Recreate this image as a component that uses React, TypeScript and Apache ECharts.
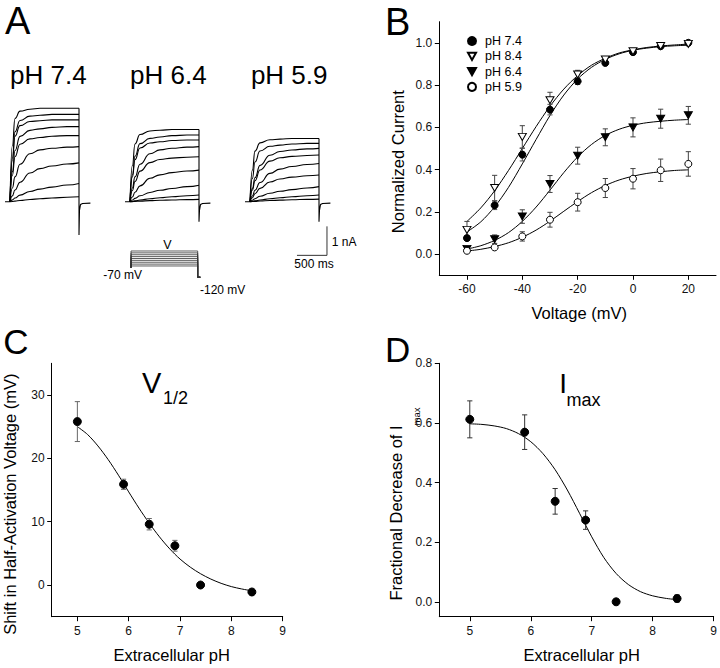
import React, { useEffect, useRef } from "react";
import * as echarts from "echarts";

const FONT = '"Liberation Sans", Arial, Helvetica, sans-serif';

// ---------- Panel A: current traces (nA vs ms) ----------
const traceTimes = [0, 40, 83, 167, 333, 500, 700, 950, 1150];
const riseShapes = [
  [0, 0.6, 0.89, 0.97, 0.99, 1, 1, 1, 1],
  [0, 0.5, 0.8, 0.93, 0.98, 0.99, 1, 1, 1],
  [0, 0.4, 0.68, 0.87, 0.95, 0.97, 0.99, 1, 1],
  [0, 0.25, 0.45, 0.68, 0.87, 0.94, 0.97, 0.99, 1],
  [0, 0.15, 0.3, 0.5, 0.74, 0.85, 0.92, 0.97, 1],
  [0, 0.1, 0.2, 0.36, 0.56, 0.69, 0.8, 0.91, 1],
  [0, 0.05, 0.12, 0.25, 0.45, 0.6, 0.75, 0.9, 1],
];
const ampPH74 = [3.22, 3.01, 2.82, 2.59, 2.28, 1.9, 1.34, 0.63, 0.17];
const kinPH74 = [0, 1, 1, 2, 2, 3, 4, 5, 6];
const tailPH74 = 1.15;
const ampPH64 = [2.49, 2.3, 2.13, 1.9, 1.55, 1.09, 0.57, 0.23, 0.08];
const kinPH64 = [1, 2, 2, 3, 3, 4, 5, 6, 6];
const tailPH64 = 0.69;
const ampPH59 = [2.18, 2.01, 1.84, 1.61, 1.32, 0.92, 0.52, 0.23, 0.09];
const kinPH59 = [1, 2, 3, 3, 4, 4, 5, 6, 6];
const tailPH59 = 0.69;
const traceLabels = ["pH 7.4", "pH 6.4", "pH 5.9"];

// voltage protocol (mV)
const protocolSteps = [-60, -50, -40, -30, -20, -10, 0, 10, 20];
const holdingPotential = -70;
const tailPotential = -120;
const pulseDuration = 1150;

// scale bar
const scaleBarCurrent = 1; // nA
const scaleBarTime = 500; // ms

// ---------- Panel B ----------
const voltages = [-60, -50, -40, -30, -20, -10, 0, 10, 20];
const nc74 = [0.076, 0.231, 0.471, 0.684, 0.818, 0.905, 0.956, 0.984, 1.0];
const nc74Err = [0.01, 0.02, 0.03, 0.025, 0.015, 0.012, 0.012, 0.01, 0.008];
const nc84 = [0.115, 0.313, 0.555, 0.728, 0.85, 0.921, 0.96, 0.985, 0.995];
const nc84Err = [0.04, 0.06, 0.053, 0.038, 0.02, 0.01, 0.01, 0.008, 0.008];
const nc64 = [0.025, 0.071, 0.178, 0.332, 0.466, 0.553, 0.6, 0.641, 0.657];
const nc64Err = [0.012, 0.02, 0.032, 0.04, 0.04, 0.04, 0.045, 0.045, 0.042];
const nc59 = [0.016, 0.032, 0.084, 0.163, 0.246, 0.313, 0.357, 0.397, 0.427];
const nc59Err = [0.008, 0.008, 0.022, 0.035, 0.042, 0.045, 0.048, 0.053, 0.058];

const fitVoltages = [-60, -55, -50, -45, -40, -35, -30, -25, -20, -15, -10, -5, 0, 5, 10, 15, 20];
const fit84 = [0.155, 0.219, 0.3, 0.396, 0.5, 0.604, 0.7, 0.781, 0.845, 0.894, 0.927, 0.952, 0.967, 0.978, 0.985, 0.99, 0.994];
const fit74 = [0.105, 0.153, 0.224, 0.316, 0.427, 0.543, 0.656, 0.753, 0.829, 0.884, 0.922, 0.948, 0.965, 0.975, 0.982, 0.986, 0.989];
const fit64 = [0.024, 0.04, 0.065, 0.102, 0.155, 0.223, 0.303, 0.386, 0.46, 0.519, 0.562, 0.591, 0.61, 0.622, 0.629, 0.634, 0.637];
const fit59 = [0.015, 0.023, 0.036, 0.054, 0.08, 0.114, 0.156, 0.203, 0.249, 0.291, 0.325, 0.351, 0.369, 0.382, 0.39, 0.396, 0.399];

// ---------- Panels C and D ----------
const phValues = [5, 5.9, 6.4, 6.9, 7.4, 8.4];
const v12Shift = [25.8, 15.9, 9.6, 6.2, 0, -1.1];
const v12Err = [3.15, 0.8, 0.9, 0.85, 0, 0.4];
const imaxDecrease = [0.612, 0.569, 0.337, 0.274, 0, 0.011];
const imaxErr = [0.062, 0.058, 0.043, 0.031, 0, 0.012];
const fitPH = [5, 5.2, 5.4, 5.6, 5.8, 6, 6.2, 6.4, 6.6, 6.8, 7, 7.2, 7.4, 7.6, 7.8, 8, 8.2, 8.4];
const fitV12 = [25.0, 23.75, 21.96, 19.8, 17.34, 14.7, 12.14, 9.76, 7.6, 5.7, 4.1, 2.82, 1.78, 0.94, 0.27, -0.25, -0.62, -0.91];
const fitImax = [0.597, 0.595, 0.59, 0.581, 0.564, 0.537, 0.497, 0.443, 0.375, 0.297, 0.218, 0.148, 0.095, 0.058, 0.034, 0.02, 0.012, 0.007];

const downTriangle = "path://M0,0L10,0L5,9Z";

function pairs(xs: number[], ys: number[]) {
  return xs.map((x, i) => [x, ys[i]]);
}

function errorBars(gi: number, xs: number[], ys: number[], errs: number[], color: string) {
  return {
    type: "custom",
    xAxisIndex: gi,
    yAxisIndex: gi,
    z: 2,
    silent: true,
    data: xs.map((x, i) => [x, ys[i] - errs[i], ys[i] + errs[i]]),
    encode: { x: 0, y: [1, 2] },
    renderItem: (params: any, api: any) => {
      const x = api.value(0);
      const lo = api.value(1);
      const hi = api.value(2);
      const top = api.coord([x, hi]);
      const bot = api.coord([x, lo]);
      const w = 2.6;
      const style = { stroke: color, lineWidth: 1 };
      return {
        type: "group",
        children: [
          { type: "line", shape: { x1: top[0], y1: top[1], x2: bot[0], y2: bot[1] }, style },
          { type: "line", shape: { x1: top[0] - w, y1: top[1], x2: top[0] + w, y2: top[1] }, style },
          { type: "line", shape: { x1: bot[0] - w, y1: bot[1], x2: bot[0] + w, y2: bot[1] }, style },
        ],
      };
    },
  };
}

function fitLine(gi: number, xs: number[], ys: number[]) {
  return {
    type: "line",
    xAxisIndex: gi,
    yAxisIndex: gi,
    data: pairs(xs, ys),
    symbol: "none",
    smooth: 0.3,
    lineStyle: { color: "#000", width: 1 },
    z: 1,
    silent: true,
  };
}

function scatter(gi: number, name: string, xs: number[], ys: number[], symbol: string, size: any, fill: string) {
  return {
    type: "scatter",
    name,
    xAxisIndex: gi,
    yAxisIndex: gi,
    data: pairs(xs, ys),
    symbol,
    symbolSize: size,
    itemStyle: { color: fill, borderColor: "#000", borderWidth: 1, opacity: 1 },
    z: 3,
  };
}

function visibleX(gi: number, min: number, max: number, ticks: number[], fmt: (v: number) => string) {
  return {
    gridIndex: gi,
    type: "value",
    min,
    max,
    axisLine: { show: true, onZero: false, lineStyle: { color: "#000", width: 1 } },
    axisTick: { show: true, inside: false, length: 4.5, customValues: ticks, lineStyle: { color: "#000", width: 1 } },
    axisLabel: { show: true, customValues: ticks, formatter: fmt, margin: 8, fontSize: 12, color: "#111", fontFamily: FONT },
    splitLine: { show: false },
  };
}

function visibleY(gi: number, min: number, max: number, ticks: number[], fmt: (v: number) => string) {
  return {
    gridIndex: gi,
    type: "value",
    min,
    max,
    axisLine: { show: true, onZero: false, lineStyle: { color: "#000", width: 1 } },
    axisTick: { show: true, inside: false, length: 4.5, customValues: ticks, lineStyle: { color: "#000", width: 1 } },
    axisLabel: { show: true, customValues: ticks, formatter: fmt, margin: 7, fontSize: 12, color: "#111", fontFamily: FONT },
    splitLine: { show: false },
  };
}

function hiddenAxis(gi: number, min: number, max: number) {
  return { gridIndex: gi, type: "value", min, max, show: false };
}

function txt(text: string, x: number, y: number, size: number, align = "left", rotation = 0) {
  return {
    type: "text",
    x,
    y,
    rotation,
    silent: true,
    style: { text, fontSize: size, fontFamily: FONT, fill: "#000", align, verticalAlign: "middle" },
  };
}

function buildOption() {
  const series: any[] = [];

  // Panel A traces
  const panels = [
    { amp: ampPH74, kin: kinPH74, tail: tailPH74 },
    { amp: ampPH64, kin: kinPH64, tail: tailPH64 },
    { amp: ampPH59, kin: kinPH59, tail: tailPH59 },
  ];
  panels.forEach((p, gi) => {
    const base = { type: "line", xAxisIndex: gi, yAxisIndex: gi, symbol: "none", silent: true, z: 1 };
    series.push({ ...base, data: [[-83, 0], [0, 0]], lineStyle: { color: "#000", width: 1.1 } });
    p.amp.forEach((a, i) => {
      series.push({
        ...base,
        data: traceTimes.map((t, k) => [t, a * riseShapes[p.kin[i]][k]]),
        smooth: 0.5,
        smoothMonotone: "x",
        lineStyle: { color: "#000", width: 1.1 },
      });
    });
    series.push({
      ...base,
      data: [
        [pulseDuration, p.amp[0]],
        [pulseDuration, -p.tail],
        [pulseDuration + 8, -0.3],
        [pulseDuration + 25, -0.1],
        [pulseDuration + 60, -0.06],
        [pulseDuration + 190, -0.05],
      ],
      lineStyle: { color: "#000", width: 1.1 },
    });
  });

  // scale bar in pH 5.9 panel coordinates
  const sbX = 1283;
  const sbY = -1.85;
  series.push({
    type: "line",
    xAxisIndex: 2,
    yAxisIndex: 2,
    symbol: "none",
    silent: true,
    data: [
      [sbX, sbY + scaleBarCurrent],
      [sbX, sbY],
      [sbX - scaleBarTime, sbY],
    ],
    lineStyle: { color: "#333", width: 1 },
  });

  // voltage protocol
  protocolSteps.forEach((v) => {
    series.push({
      type: "line",
      xAxisIndex: 3,
      yAxisIndex: 3,
      symbol: "none",
      silent: true,
      data: [
        [0, holdingPotential],
        [0, v],
        [pulseDuration, v],
        [pulseDuration, tailPotential],
        [pulseDuration + 45, tailPotential],
      ],
      lineStyle: { color: "#333", width: 0.8 },
    });
  });

  // Panel B
  series.push(fitLine(4, fitVoltages, fit84));
  series.push(fitLine(4, fitVoltages, fit74));
  series.push(fitLine(4, fitVoltages, fit64));
  series.push(fitLine(4, fitVoltages, fit59));
  series.push(errorBars(4, voltages, nc74, nc74Err, "#555"));
  series.push(errorBars(4, voltages, nc84, nc84Err, "#444"));
  series.push(errorBars(4, voltages, nc64, nc64Err, "#444"));
  series.push(errorBars(4, voltages, nc59, nc59Err, "#444"));
  series.push(scatter(4, "pH 7.4", voltages, nc74, "circle", 7, "#000"));
  series.push(scatter(4, "pH 8.4", voltages, nc84, downTriangle, [8, 7], "#fff"));
  series.push(scatter(4, "pH 6.4", voltages, nc64, downTriangle, [8, 7], "#000"));
  series.push(scatter(4, "pH 5.9", voltages, nc59, "circle", 7, "#fff"));

  // Panel C
  series.push(fitLine(5, fitPH, fitV12));
  series.push(errorBars(5, phValues, v12Shift, v12Err, "#666"));
  series.push(scatter(5, "V1/2", phValues, v12Shift, "circle", 8, "#000"));

  // Panel D
  series.push(fitLine(6, fitPH, fitImax));
  series.push(errorBars(6, phValues, imaxDecrease, imaxErr, "#333"));
  series.push(scatter(6, "Imax", phValues, imaxDecrease, "circle", 8, "#000"));

  const f1 = (v: number) => v.toFixed(1);
  const f0 = (v: number) => String(Math.round(v));

  return {
    animation: false,
    backgroundColor: "#fff",
    textStyle: { fontFamily: FONT },
    grid: [
      { left: 4, top: 100.2, width: 90, height: 174 },
      { left: 124, top: 100.2, width: 90, height: 174 },
      { left: 244, top: 100.2, width: 90, height: 174 },
      { left: 131, top: 250.06, width: 72.5, height: 28.1 },
      { left: 439.3, top: 21.7, width: 276.7, height: 253.6 },
      { left: 51.7, top: 363.3, width: 231, height: 253.4 },
      { left: 439.3, top: 363.3, width: 276.7, height: 253.4 },
    ],
    xAxis: [
      hiddenAxis(0, -100, 1400),
      hiddenAxis(1, -100, 1400),
      hiddenAxis(2, -100, 1400),
      hiddenAxis(3, 0, 1250),
      visibleX(4, -70, 30, [-60, -40, -20, 0, 20], f0),
      visibleX(5, 4.5, 9, [5, 6, 7, 8, 9], f0),
      visibleX(6, 4.5, 9, [5, 6, 7, 8, 9], f0),
    ],
    yAxis: [
      hiddenAxis(0, -2.5, 3.5),
      hiddenAxis(1, -2.5, 3.5),
      hiddenAxis(2, -2.5, 3.5),
      hiddenAxis(3, -125, 25),
      visibleY(4, -0.1, 1.1, [0, 0.2, 0.4, 0.6, 0.8, 1.0], f1),
      visibleY(5, -5, 35, [0, 10, 20, 30], f0),
      visibleY(6, -0.05, 0.8, [0, 0.2, 0.4, 0.6, 0.8], f1),
    ],
    legend: {
      data: ["pH 7.4", "pH 8.4", "pH 6.4", "pH 5.9"],
      orient: "vertical",
      left: 462,
      top: 29,
      itemWidth: 8,
      itemHeight: 8,
      itemGap: 1.3,
      selectedMode: false,
      textStyle: { fontSize: 12.5, color: "#000", fontFamily: FONT, lineHeight: 14, padding: [0, 0, 0, 4] },
    },
    graphic: [
      txt("A", 5, 21, 38),
      txt("B", 385, 21.5, 38),
      txt("C", 3.3, 341, 35),
      txt("D", 385, 349, 35),
      txt(traceLabels[0], 48.3, 75, 26, "center"),
      txt(traceLabels[1], 168.3, 75, 26, "center"),
      txt(traceLabels[2], 289.2, 75, 26, "center"),
      txt("V", 167.5, 244.5, 12.5, "center"),
      txt("-70 mV", 103.3, 275.3, 12),
      txt("-120 mV", 200, 289.5, 12),
      txt("1 nA", 331.7, 241.7, 12),
      txt("500 ms", 294.3, 264, 12),
      txt("Normalized Current", 397.7, 161.7, 16.5, "center", Math.PI / 2),
      txt("Voltage (mV)", 579.2, 313, 16.5, "center"),
      txt("Shift in Half-Activation Voltage (mV)", 10, 504.2, 16.5, "center", Math.PI / 2),
      txt("Extracellular pH", 171.7, 654.5, 16.5, "center"),
      txt("Extracellular pH", 581.7, 654.5, 16.5, "center"),
      {
        type: "text",
        x: 404.7,
        y: 504,
        rotation: Math.PI / 2,
        silent: true,
        style: {
          text: "{a|Fractional Decrease of I}{b|max}",
          fontFamily: FONT,
          fill: "#000",
          align: "center",
          verticalAlign: "middle",
          rich: {
            a: { fontSize: 16.5, lineHeight: 18, verticalAlign: "top", fontFamily: FONT },
            b: { fontSize: 9.5, lineHeight: 34, verticalAlign: "bottom", fontFamily: FONT },
          },
        },
      },
      txt("V", 142, 382.5, 29),
      txt("1/2", 163, 398, 18),
      txt("I", 559.3, 383.3, 28),
      txt("max", 566.5, 399.6, 18),
    ],
    series,
  };
}

export default function App() {
  const ref = useRef<HTMLDivElement>(null);
  useEffect(() => {
    document.body.style.margin = "0";
    const chart = echarts.init(ref.current as HTMLDivElement, null, { renderer: "svg" });
    chart.setOption(buildOption() as any);
    return () => chart.dispose();
  }, []);
  return <div ref={ref} style={{ width: 720, height: 668 }} />;
}
